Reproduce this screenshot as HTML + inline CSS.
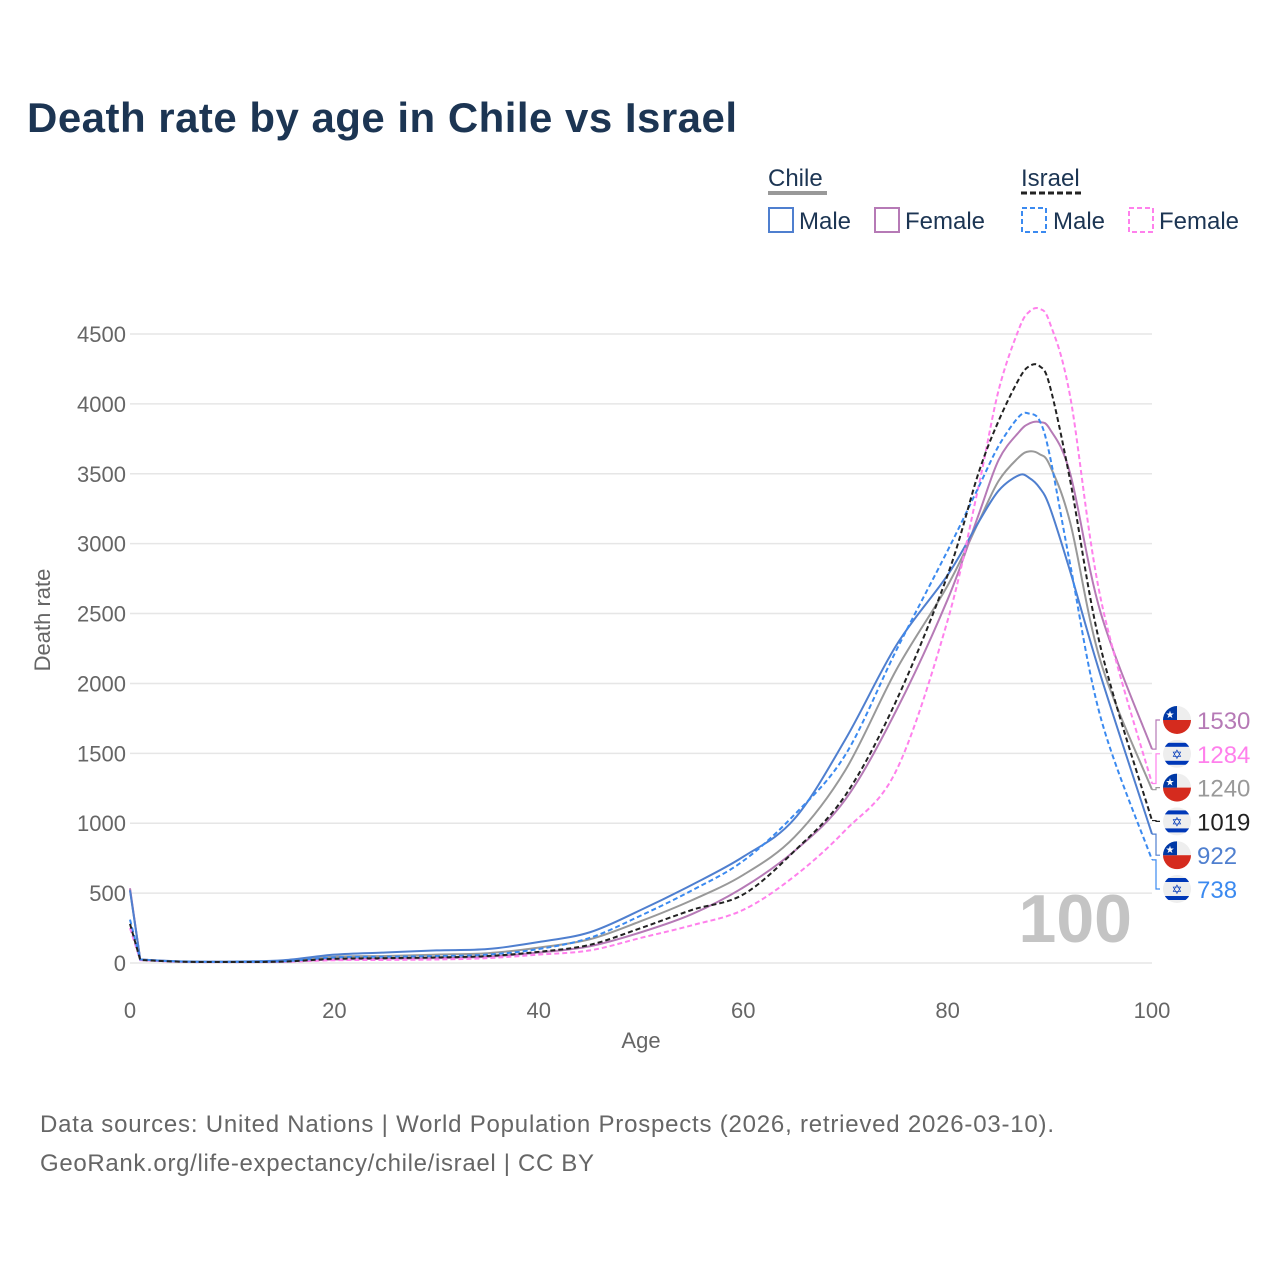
<!DOCTYPE html>
<html><head><meta charset="utf-8">
<style>
html,body{margin:0;padding:0;background:#fff;}
body{width:1280px;height:1280px;overflow:hidden;font-family:"Liberation Sans",sans-serif;}
svg text{font-family:"Liberation Sans",sans-serif;}
</style></head>
<body>
<svg id="chart" width="1280" height="1280" viewBox="0 0 1280 1280" xmlns="http://www.w3.org/2000/svg">
<text x="27" y="132" font-size="42" font-weight="bold" fill="#1c3553" textLength="710">Death rate by age in Chile vs Israel</text>
<g>
  <text x="768" y="186" font-size="24" fill="#1c3553">Chile</text>
  <line x1="768" y1="193" x2="827" y2="193" stroke="#999" stroke-width="4"/>
  <text x="1021" y="186" font-size="24" fill="#1c3553">Israel</text>
  <line x1="1021" y1="193" x2="1083" y2="193" stroke="#222" stroke-width="3" stroke-dasharray="6,3"/>
  <g><rect x="769" y="208" width="24" height="24" fill="none" stroke="#4f7fcf" stroke-width="2"/><text x="799" y="229" font-size="24" fill="#1c3553">Male</text></g>
  <g><rect x="875" y="208" width="24" height="24" fill="none" stroke="#b67ab6" stroke-width="2"/><text x="905" y="229" font-size="24" fill="#1c3553">Female</text></g>
  <g><rect x="1022" y="208" width="24" height="24" fill="none" stroke="#3b8af0" stroke-width="2" stroke-dasharray="5,3"/><text x="1053" y="229" font-size="24" fill="#1c3553">Male</text></g>
  <g><rect x="1129" y="208" width="24" height="24" fill="none" stroke="#ff80ec" stroke-width="2" stroke-dasharray="5,3"/><text x="1159" y="229" font-size="24" fill="#1c3553">Female</text></g>
</g>
<g id="grid"></g>
<text x="1132" y="942" font-size="68" font-weight="bold" fill="#c4c4c4" text-anchor="end">100</text>
<g id="series"></g>
<g id="labels"></g>
<text transform="translate(50,620) rotate(-90)" font-size="22" fill="#666" text-anchor="middle">Death rate</text>
<text x="641" y="1048" font-size="22" fill="#666" text-anchor="middle">Age</text>
<text x="40" y="1132" font-size="24" fill="#666" textLength="1014">Data sources: United Nations | World Population Prospects (2026, retrieved 2026-03-10).</text>
<text x="40" y="1171" font-size="24" fill="#666" textLength="554">GeoRank.org/life-expectancy/chile/israel | CC BY</text>
</svg>
<script>
const ages = [0,1,5,10,15,20,25,30,35,40,45,50,55,60,65,70,75,80,83,85,87,88,89,90,92,95,100];
const chileMale   = [520,25,12,10,20,60,75,90,100,150,220,380,560,760,1030,1600,2275,2775,3150,3380,3490,3470,3400,3260,2800,2050,922];
const chileFemale = [535,25,10,8,10,25,30,35,45,75,120,220,350,540,800,1170,1810,2600,3200,3600,3800,3860,3870,3820,3500,2500,1530];
const chileTotal  = [525,25,11,9,15,45,50,60,70,110,170,300,450,630,900,1380,2100,2700,3150,3450,3620,3660,3640,3560,3150,2150,1240];
const israelMale  = [310,25,10,8,12,40,45,50,60,100,180,340,520,730,1060,1490,2240,2950,3400,3700,3910,3930,3880,3630,2850,1750,738];
const israelFemale= [250,20,8,6,8,20,22,25,35,60,90,180,270,380,620,950,1380,2450,3400,4100,4540,4660,4680,4580,4050,2600,1284];
const israelTotal = [280,22,9,7,10,30,35,40,50,80,130,250,380,490,800,1200,1880,2775,3500,3880,4180,4270,4270,4130,3450,2250,1019];
const yTicks = [0,500,1000,1500,2000,2500,3000,3500,4000,4500];
const xTicks = [0,20,40,60,80,100];
const X = a => 130 + a*10.22;
const Y = v => 963 - v*0.13978;
const NS="http://www.w3.org/2000/svg";
const grid=document.getElementById('grid');
yTicks.forEach(t=>{
  const l=document.createElementNS(NS,'line');
  l.setAttribute('x1',130);l.setAttribute('x2',1152);l.setAttribute('y1',Y(t));l.setAttribute('y2',Y(t));
  l.setAttribute('stroke','#e6e6e6');l.setAttribute('stroke-width',1.5);
  
  
  grid.appendChild(l);
  const tx=document.createElementNS(NS,'text');
  tx.setAttribute('x',126);tx.setAttribute('y',Y(t)+8);tx.setAttribute('text-anchor','end');
  tx.setAttribute('font-size',22);tx.setAttribute('fill','#666');tx.textContent=t;
  
  
  grid.appendChild(tx);
});
xTicks.forEach(t=>{
  const tx=document.createElementNS(NS,'text');
  tx.setAttribute('x',X(t));tx.setAttribute('y',1018);tx.setAttribute('text-anchor','middle');
  tx.setAttribute('font-size',22);tx.setAttribute('fill','#666');tx.textContent=t;
  
  
  grid.appendChild(tx);
});
function pathFor(vals){
  const p=ages.map((a,i)=>[X(a),Y(vals[i])]);
  let d='M'+p[0][0]+','+p[0][1]+' L'+p[1][0]+','+p[1][1];
  for(let i=1;i<p.length-1;i++){
    const p0=p[i-1],p1=p[i],p2=p[i+1],p3=p[Math.min(i+2,p.length-1)];
    const k=i===1?0:1/6;
    const c1=[p1[0]+(p2[0]-p0[0])*k,p1[1]+(p2[1]-p0[1])*k];
    const c2=[p2[0]-(p3[0]-p1[0])/6,p2[1]-(p3[1]-p1[1])/6];
    d+=' C'+c1[0]+','+c1[1]+' '+c2[0]+','+c2[1]+' '+p2[0]+','+p2[1];
  }
  return d;
}
const series=document.getElementById('series');
const defs=[
 [chileTotal,'#999','none','line-chile-total'],
 [chileFemale,'#b67ab6','none','line-chile-female'],
 [chileMale,'#4f7fcf','none','line-chile-male'],
 [israelFemale,'#ff80ec','5,3','line-israel-female'],
 [israelMale,'#3b8af0','5,3','line-israel-male'],
 [israelTotal,'#222','5,3','line-israel-total']
];
defs.forEach(s=>{
  const el=document.createElementNS(NS,'path');
  el.setAttribute('d',pathFor(s[0]));el.setAttribute('fill','none');
  el.setAttribute('stroke',s[1]);el.setAttribute('stroke-width',2);
  if(s[2]!=='none')el.setAttribute('stroke-dasharray',s[2]);
  
  
  series.appendChild(el);
});
const labelOrder=[[chileFemale,'#b67ab6','chile'],[israelFemale,'#ff80ec','israel'],[chileTotal,'#999','chile'],[israelTotal,'#222','israel'],[chileMale,'#4f7fcf','chile'],[israelMale,'#3b8af0','israel']];
const labels=document.getElementById('labels');
labelOrder.forEach((s,i)=>{
  const ly=720+i*33.8;
  const v=s[0][s[0].length-1];
  const ey=Y(v);
  const c=document.createElementNS(NS,'path');
  c.setAttribute('d','M1152,'+ey+' H1156 V'+ly+' H1160');
  c.setAttribute('fill','none');c.setAttribute('stroke',s[1]);c.setAttribute('stroke-width',1.2);
  
  
  labels.appendChild(c);
  const g=document.createElementNS(NS,'g');
  
  
  const cx=1177, r=14;
  if(s[2]==='chile'){
    g.innerHTML='<clipPath id="cf'+i+'"><circle cx="'+cx+'" cy="'+ly+'" r="'+r+'"/></clipPath><g clip-path="url(#cf'+i+')"><rect x="'+(cx-r)+'" y="'+(ly-r)+'" width="28" height="14" fill="#eee"/><rect x="'+(cx-r)+'" y="'+ly+'" width="28" height="14" fill="#d52b1e"/><rect x="'+(cx-r)+'" y="'+(ly-r)+'" width="14" height="14" fill="#0039a6"/><text x="'+(cx-7)+'" y="'+(ly-2)+'" font-size="10" fill="#fff" text-anchor="middle">★</text></g>';
  } else {
    g.innerHTML='<clipPath id="cf'+i+'"><circle cx="'+cx+'" cy="'+ly+'" r="'+r+'"/></clipPath><g clip-path="url(#cf'+i+')"><rect x="'+(cx-r)+'" y="'+(ly-r)+'" width="28" height="28" fill="#eee"/><rect x="'+(cx-r)+'" y="'+(ly-11)+'" width="28" height="4" fill="#0038b8"/><rect x="'+(cx-r)+'" y="'+(ly+7)+'" width="28" height="4" fill="#0038b8"/><text x="'+cx+'" y="'+(ly+5)+'" font-size="13" fill="#0038b8" text-anchor="middle">✡</text></g>';
  }
  labels.appendChild(g);
  const t=document.createElementNS(NS,'text');
  t.setAttribute('x',1197);t.setAttribute('y',ly+9);t.setAttribute('font-size',24);t.setAttribute('fill',s[1]);
  t.textContent=v;
  
  
  labels.appendChild(t);
});
</script>
</body></html>
